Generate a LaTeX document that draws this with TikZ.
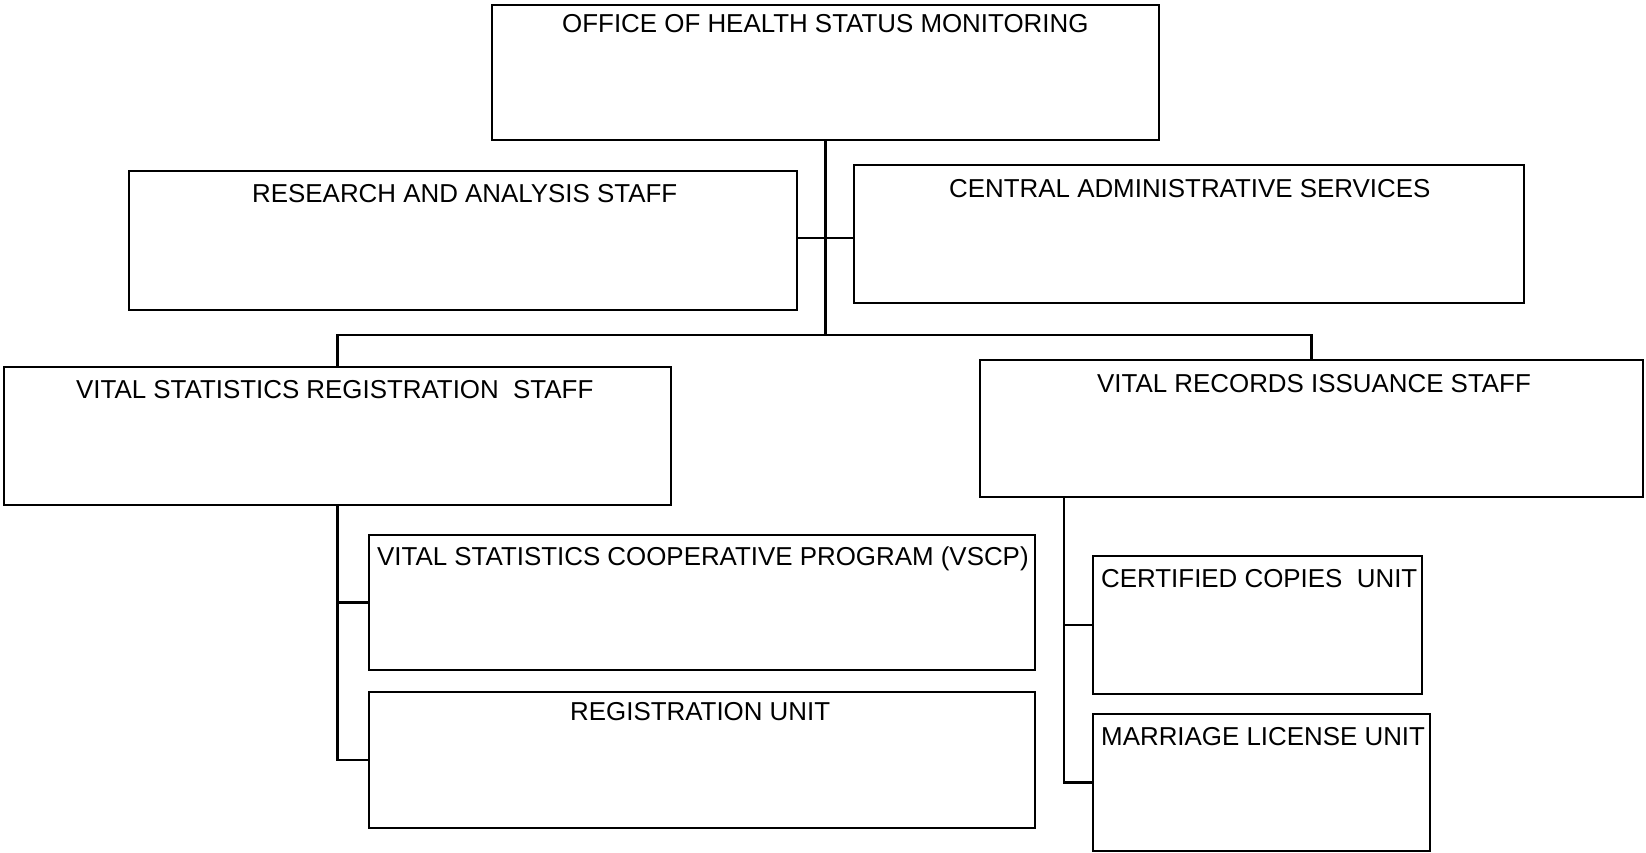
\documentclass[tikz,border=0pt]{standalone}
\usepackage{fontspec}
\setmainfont{Liberation Sans}
\begin{document}
\begin{tikzpicture}[x=1pt,y=-1pt,
  box/.style={draw=black,line width=2.6pt,rectangle,inner sep=0pt,outer sep=0pt},
  lbl/.style={anchor=base west,inner sep=0pt,font=\fontsize{25.9}{30}\selectfont},
  conn/.style={draw=black,line width=2.2pt}]
\useasboundingbox (0,0) rectangle (1646,853);
% boxes
\node[box,minimum width=667pt,minimum height=135pt] (top)  at (825.5,72.5) {};
\node[box,minimum width=668pt,minimum height=139pt] (res)  at (463,240.5) {};
\node[box,minimum width=670pt,minimum height=138pt] (cas)  at (1189,234) {};
\node[box,minimum width=667pt,minimum height=138pt] (vsrs) at (337.5,436) {};
\node[box,minimum width=663pt,minimum height=137pt] (vris) at (1311.5,428.5) {};
\node[box,minimum width=666pt,minimum height=135pt] (vscp) at (702,602.5) {};
\node[box,minimum width=666pt,minimum height=136pt] (reg)  at (702,760) {};
\node[box,minimum width=329pt,minimum height=138pt] (cert) at (1257.5,625) {};
\node[box,minimum width=337pt,minimum height=137pt] (marr) at (1261.5,782.5) {};
% texts
\node[lbl] (topT)  at (562,33)  {OFFICE OF HEALTH STATUS MONITORING};
\node[lbl] (resT)  at (252,203) {RESEARCH AND ANALYSIS STAFF};
\node[lbl] (casT)  at (949,198) {CENTRAL ADMINISTRATIVE SERVICES};
\node[lbl] (vsrsT) at (76,398)  {VITAL STATISTICS REGISTRATION~ STAFF};
\node[lbl] (vrisT) at (1097,392) {VITAL RECORDS ISSUANCE STAFF};
\node[lbl] (vscpT) at (377,565) {VITAL STATISTICS COOPERATIVE PROGRAM (VSCP)};
\node[lbl] (regT)  at (570,720) {REGISTRATION UNIT};
\node[lbl] (certT) at (1101,587) {CERTIFIED COPIES~ UNIT};
\node[lbl] (marrT) at (1101,745) {MARRIAGE LICENSE UNIT};
% connectors
\coordinate (bus) at (825.5,335);
\coordinate (mid) at (825.5,238);
\draw[conn] (top.south) -- (bus);
\draw[conn] (res.east |- mid) -- (cas.west |- mid);
\draw[conn] (vsrs.north) |- (bus) -| (vris.north);
\draw[conn] (vsrs.south) |- (reg.west);
\draw[conn] (vsrs.south |- vscp.west) -- (vscp.west);
\draw[conn] ([xshift=84pt]vris.south west) coordinate (vr) |- (marr.west);
\draw[conn] (vr |- cert.west) -- (cert.west);
\end{tikzpicture}
\end{document}
